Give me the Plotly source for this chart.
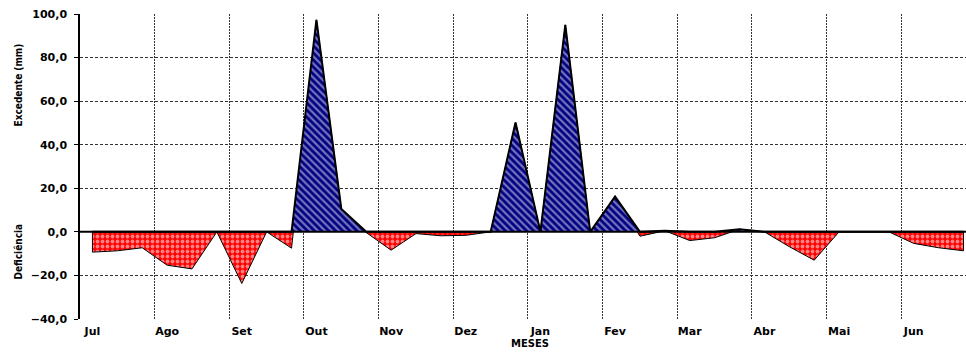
import plotly.graph_objects as go

# Month labels (one per 3 ten-day periods)
meses = ["Jul", "Ago", "Set", "Out", "Nov", "Dez", "Jan", "Fev", "Mar", "Abr", "Mai", "Jun"]

# 36 ten-day periods (decêndios), values in mm
excedente = [0, 0, 0, 0, 0, 0, 0, 0, 0,
             97.3, 10.5, 0, 0, 0, 0, 0, 0, 50.2,
             0, 95.0, 0, 16.2, 0, 0.5, 0, 0, 1.2,
             0, 0, 0, 0, 0, 0, 0, 0, 0]
deficiencia = [-9.3, -8.7, -7.3, -15.3, -17.0, 0, -23.7, 0, -7.5,
               0, 0, -0.3, -8.4, -0.8, -1.8, -1.6, 0, 0,
               0, 0, 0, 0, -2.0, 0, -4.0, -2.7, 0,
               0, -6.8, -13.0, 0, 0, 0, -5.3, -7.3, -8.7]

n = len(excedente)
xs = list(range(n))
balanco = [d + e for d, e in zip(deficiencia, excedente)]

# closed polygon for the deficiency area (drawn from the data, closed at zero)
poly_x = [xs[0]] + xs + [xs[-1]]
poly_y = [0] + balanco + [0]

fig = go.Figure()

fig.add_trace(go.Scatter(
    x=poly_x, y=poly_y, mode="lines", fill="toself",
    fillcolor="#FF0000",
    fillpattern=dict(shape=".", bgcolor="#FF0000", fgcolor="#FFFFFF",
                     size=5, solidity=0.45),
    line=dict(color="#000000", width=1),
    showlegend=False, hoverinfo="skip"))

fig.add_trace(go.Scatter(
    x=xs, y=excedente, mode="lines", fill="tozeroy",
    fillcolor="#000080",
    fillpattern=dict(shape="\\", bgcolor="#000080", fgcolor="#E6E6FA",
                     size=5, solidity=0.45),
    line=dict(color="#000000", width=2),
    showlegend=False, hoverinfo="skip"))

tickfont = dict(family="DejaVu Sans", size=11, color="#000000", weight="bold")
narrow = "Liberation Sans Narrow, DejaVu Sans Condensed, Liberation Sans"

fig.update_layout(
    width=966, height=352,
    margin=dict(l=80, r=0, t=14, b=33),
    paper_bgcolor="white", plot_bgcolor="white",
    separators=",.",
    showlegend=False,
    xaxis=dict(
        range=[-0.5, 35.1],
        tickmode="array",
        tickvals=[3 * k for k in range(len(meses))],
        ticktext=meses,
        showgrid=False, zeroline=False, showline=False,
        ticks="", tickfont=tickfont, ticklabelstandoff=4,
        minor=dict(tickmode="array",
                   tickvals=[3 * k - 0.5 for k in range(len(meses) + 1)],
                   showgrid=True, gridcolor="#333333", gridwidth=1,
                   griddash="2px,1px", ticks=""),
        automargin=False,
    ),
    yaxis=dict(
        range=[-40, 100], dtick=20, tick0=0,
        tickformat=".1f",
        showgrid=True, gridcolor="#333333", gridwidth=1, griddash="3px,2px",
        zeroline=False,
        showline=True, linecolor="#000000", linewidth=1.5,
        ticks="outside", ticklen=4, tickcolor="#000000",
        tickfont=tickfont, ticklabelstandoff=5,
        automargin=False,
    ),
    shapes=[dict(type="line", xref="paper", x0=0, x1=1, yref="y", y0=0, y1=0,
                 line=dict(color="#000000", width=2), layer="above")],
    annotations=[
        dict(text="Excedente (mm)", textangle=-90, xref="paper", yref="paper",
             x=(17.5 - 80) / 886, y=1 - (85 - 14) / 305,
             xanchor="center", yanchor="middle", showarrow=False,
             font=dict(family=narrow, size=10, color="#000000", weight="bold")),
        dict(text="Deficiência", textangle=-90, xref="paper", yref="paper",
             x=(17.5 - 80) / 886, y=1 - (251 - 14) / 305,
             xanchor="center", yanchor="middle", showarrow=False,
             font=dict(family=narrow, size=10, color="#000000", weight="bold")),
        dict(text="MESES", xref="paper", yref="paper",
             x=(530 - 80) / 886, y=-(343 - 319) / 305,
             xanchor="center", yanchor="middle", showarrow=False,
             font=dict(family="DejaVu Sans", size=10, color="#000000", weight="bold")),
    ],
)

fig.write_html("out.html",
               config={"displayModeBar": False},
               post_script="document.body.style.margin='0';document.body.style.overflow='hidden';")
